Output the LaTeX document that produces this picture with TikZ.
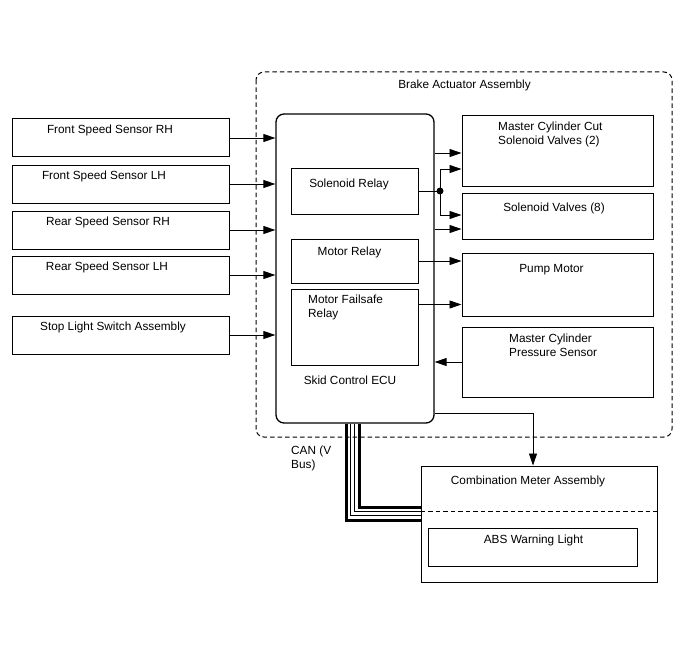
\documentclass[tikz,border=0pt]{standalone}
\usepackage{fontspec}
\setmainfont{Liberation Sans}
\usetikzlibrary{arrows.meta,calc,positioning}
\tikzset{
  caja/.style={draw,line width=1pt,inner sep=0pt},
  txt/.style={font=\fontsize{11.8}{14}\selectfont,inner sep=0pt,yshift=-2pt},
  txtl/.style={txt,align=left,anchor=north west},
  flecha/.style={-{Triangle[length=12pt,width=8pt]},line width=0.9pt},
  linea/.style={line width=0.9pt}
}
\begin{document}
\begin{tikzpicture}[x=1pt,y=-1pt]
\useasboundingbox[fill=white] (0,0) rectangle (688,658);
\draw[line width=1pt,dash pattern=on 4.5pt off 3pt,rounded corners=8pt] (256,72) rectangle (672,437);
\node[txt] (bba) at (464.5,83) {Brake Actuator Assembly};
\node[caja,minimum width=217pt,minimum height=38pt] (fsrh) at (120.5,138) {};
\node[caja,minimum width=217pt,minimum height=38pt] (fslh) at (120.5,184) {};
\node[caja,minimum width=217pt,minimum height=38pt] (rsrh) at (120.5,230) {};
\node[caja,minimum width=217pt,minimum height=38pt] (rslh) at (120.5,275) {};
\node[caja,minimum width=217pt,minimum height=38pt] (stop) at (120.5,335) {};
\node[txt] at (110,128) {Front Speed Sensor RH};
\node[txt] at (104,174) {Front Speed Sensor LH};
\node[txt] at (108,220) {Rear Speed Sensor RH};
\node[txt] at (107,265) {Rear Speed Sensor LH};
\node[txt] at (113,325) {Stop Light Switch Assembly};
\node[caja,line width=1.3pt,rounded corners=8pt,minimum width=158pt,minimum height=309pt] (ecu) at (355,268.5) {};
\node[txt] at (350,378) {Skid Control ECU};
\node[caja,minimum width=127pt,minimum height=46pt] (solrel) at (354.5,191) {};
\node[txt] at (349,182) {Solenoid Relay};
\node[caja,minimum width=127pt,minimum height=44pt] (motrel) at (354.5,261) {};
\node[txt] at (349.5,250) {Motor Relay};
\node[caja,minimum width=127pt,minimum height=76pt] (mfrel) at (354.5,327) {};
\node[txtl] at (308,293) {Motor Failsafe\\Relay};
\node[caja,minimum width=191pt,minimum height=70pt] (mccut) at (557.5,151) {};
\node[txtl] at (498,120) {Master Cylinder Cut\\Solenoid Valves (2)};
\node[caja,minimum width=191pt,minimum height=46pt] (solv) at (557.5,216) {};
\node[txt] at (554,206) {Solenoid Valves (8)};
\node[caja,minimum width=191pt,minimum height=63pt] (pump) at (557.5,284.5) {};
\node[txt] at (551.5,268) {Pump Motor};
\node[caja,minimum width=191pt,minimum height=70pt] (mcps) at (557.5,362) {};
\node[txtl] at (509,332) {Master Cylinder\\Pressure Sensor};
\node[caja,minimum width=236pt,minimum height=116pt] (combo) at (539,524) {};
\node[txt] at (528,479) {Combination Meter Assembly};
\draw[line width=0.9pt,dash pattern=on 4.5pt off 3pt] ($(combo.north west)+(0,46)$) -- ($(combo.north east)+(0,46)$);
\node[caja,minimum width=209pt,minimum height=38pt] (abs) at (532.5,547) {};
\node[txt] at (533.5,538) {ABS Warning Light};
\node[txtl] (can) at (291,444) {CAN (V\\Bus)};
\draw[flecha] (fsrh.east) -- (fsrh.east -| ecu.west);
\draw[flecha] (fslh.east) -- (fslh.east -| ecu.west);
\draw[flecha] (rsrh.east) -- (rsrh.east -| ecu.west);
\draw[flecha] (rslh.east) -- (rslh.east -| ecu.west);
\draw[flecha] (stop.east) -- (stop.east -| ecu.west);
\coordinate (nodo) at (440,191);
\draw[linea] (solrel.east) -- (nodo);
\fill (nodo) circle (3.5pt);
\draw[flecha] ($(ecu.east |- mccut.west)+(0,2)$) -- ($(mccut.west)+(0,2)$);
\draw[flecha] (nodo) |- ($(mccut.west)+(0,18)$);
\draw[flecha] (nodo) |- ($(solv.west)+(0,-1)$);
\draw[flecha] ($(ecu.east |- solv.west)+(0,13)$) -- ($(solv.west)+(0,13)$);
\draw[flecha] (motrel.east) -- (motrel.east -| pump.west);
\draw[flecha] ($(mfrel.north east)+(0,16)$) -- ($(mfrel.north east -| pump.west)+(0,16)$);
\draw[flecha] (mcps.west) -- (mcps.west -| ecu.east);
\draw[flecha] ($(ecu.south east)+(0,-10)$) -| ($(combo.north)+(-6,0)$);
\foreach \d/\w in {0/3pt,4.5/1pt,8.5/1pt,13/3pt}
  \draw[line width=\w] ($(ecu.south west)+(71+\d,0)$) |- ($(combo.west)+(0,-4-\d)$);
\end{tikzpicture}
\end{document}
